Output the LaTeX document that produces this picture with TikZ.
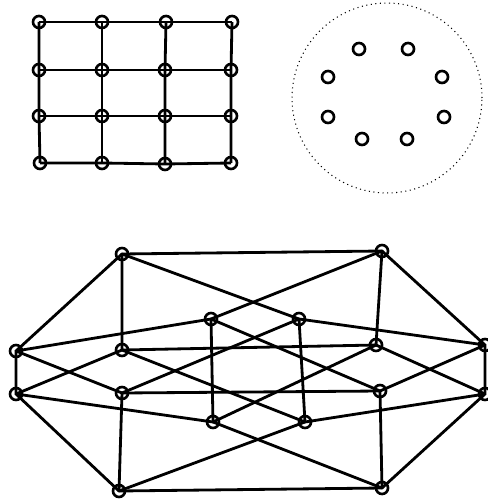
\documentclass[tikz,border=0pt]{standalone}

\begin{document}
\begin{tikzpicture}[
		x=0.02cm, y=-0.02cm,
		vertex/.style={draw=black, circle, line width=1.5pt, minimum size=0.24cm, inner sep=0pt},
		edge/.style={line width=1.6pt, black},
		halo/.style={draw=black, circle, dotted, line width=0.6pt, minimum size=3.8cm, inner sep=0pt}
		]
		\useasboundingbox (0,0) rectangle (487,502);
		
		% Top left: 4x4 grid
		\node[vertex] (g11) at (39,22) {};
		\node[vertex] (g12) at (102,22) {};
		\node[vertex] (g13) at (166,22) {};
		\node[vertex] (g14) at (232,22) {};
		\node[vertex] (g21) at (39,70) {};
		\node[vertex] (g22) at (102,70) {};
		\node[vertex] (g23) at (165,70) {};
		\node[vertex] (g24) at (231,70) {};
		\node[vertex] (g31) at (39,116) {};
		\node[vertex] (g32) at (102,116) {};
		\node[vertex] (g33) at (165,116) {};
		\node[vertex] (g34) at (231,116) {};
		\node[vertex] (g41) at (40,163) {};
		\node[vertex] (g42) at (102,163) {};
		\node[vertex] (g43) at (165,164) {};
		\node[vertex] (g44) at (231,163) {};
		
		\draw[edge] (g11.center) -- (g12.center) -- (g13.center) -- (g14.center);
		\draw[edge] (g21.center) -- (g22.center) -- (g23.center) -- (g24.center);
		\draw[edge] (g31.center) -- (g32.center) -- (g33.center) -- (g34.center);
		\draw[edge] (g41.center) -- (g42.center) -- (g43.center) -- (g44.center);
		\draw[edge] (g11.center) -- (g21.center) -- (g31.center) -- (g41.center);
		\draw[edge] (g12.center) -- (g22.center) -- (g32.center) -- (g42.center);
		\draw[edge] (g13.center) -- (g23.center) -- (g33.center) -- (g43.center);
		\draw[edge] (g14.center) -- (g24.center) -- (g34.center) -- (g44.center);
		
		% Top right: isolated vertices in a dotted ring
		\node[halo] (ring) at (387,98) {};
		\node[vertex] (r1) at (359,49) {};
		\node[vertex] (r2) at (408,49) {};
		\node[vertex] (r3) at (328,77) {};
		\node[vertex] (r4) at (442,77) {};
		\node[vertex] (r5) at (328,117) {};
		\node[vertex] (r6) at (444,117) {};
		\node[vertex] (r7) at (362,139) {};
		\node[vertex] (r8) at (407,139) {};
		
		% Bottom: 4-cube
		% outer octagon
		\node[vertex] (otl) at (122,254) {};
		\node[vertex] (otr) at (382,251) {};
		\node[vertex] (olu) at (16,351) {};
		\node[vertex] (old) at (16,394) {};
		\node[vertex] (oru) at (485,345) {};
		\node[vertex] (ord) at (485,394) {};
		\node[vertex] (obl) at (119,491) {};
		\node[vertex] (obr) at (382,488) {};
		% middle rectangle
		\node[vertex] (mlu) at (122,350) {};
		\node[vertex] (mld) at (122,393) {};
		\node[vertex] (mru) at (376,345) {};
		\node[vertex] (mrd) at (380,391) {};
		% inner square
		\node[vertex] (itl) at (211,319) {};
		\node[vertex] (itr) at (299,319) {};
		\node[vertex] (ibl) at (213,422) {};
		\node[vertex] (ibr) at (305,422) {};
		
		\draw[edge] (otl.center) -- (otr.center) -- (oru.center) -- (ord.center) -- (obr.center)
			-- (obl.center) -- (old.center) -- (olu.center) -- cycle;
		\draw[edge] (otl.center) -- (mlu.center) -- (mru.center) -- (otr.center);
		\draw[edge] (obl.center) -- (mld.center) -- (mrd.center) -- (obr.center);
		\draw[edge] (itl.center) -- (ibl.center);
		\draw[edge] (itr.center) -- (ibr.center);
		\draw[edge] (olu.center) -- (itl.center);
		\draw[edge] (itr.center) -- (oru.center);
		\draw[edge] (old.center) -- (ibl.center);
		\draw[edge] (ibr.center) -- (ord.center);
		\draw[edge] (olu.center) -- (mld.center);
		\draw[edge] (old.center) -- (mlu.center);
		\draw[edge] (mru.center) -- (ord.center);
		\draw[edge] (mrd.center) -- (oru.center);
		\draw[edge] (otl.center) -- (itr.center);
		\draw[edge] (itl.center) -- (otr.center);
		\draw[edge] (obl.center) -- (ibr.center);
		\draw[edge] (ibl.center) -- (obr.center);
		\draw[edge] (mlu.center) -- (ibr.center);
		\draw[edge] (mld.center) -- (itr.center);
		\draw[edge] (itl.center) -- (mrd.center);
		\draw[edge] (ibl.center) -- (mru.center);
		
	\end{tikzpicture}
\end{document}
